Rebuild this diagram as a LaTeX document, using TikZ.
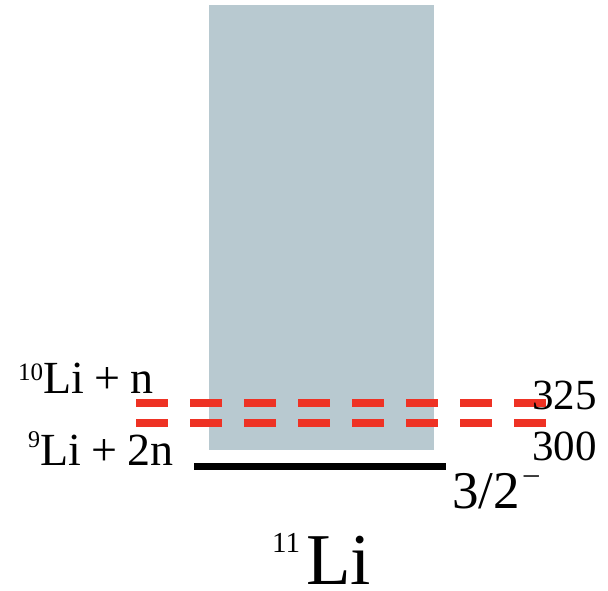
\documentclass[tikz,border=0pt]{standalone}
\usepackage{fontspec}
\setmainfont{Liberation Serif}
\definecolor{boxgray}{RGB}{184,201,208}
\definecolor{dashred}{RGB}{238,50,36}
\usetikzlibrary{positioning}
\tikzset{
  threshold/.style={draw=dashred, line width=8pt, dash pattern=on 32pt off 22pt},
  levelline/.style={draw=black, line width=7pt},
  lblbig/.style={anchor=base west, inner sep=0pt, font=\fontsize{46pt}{46pt}\selectfont},
  lblnum/.style={anchor=base west, inner sep=0pt, font=\fontsize{43pt}{43pt}\selectfont}
}
\newcommand{\plsgap}{\hspace{0.22em}+\hspace{0.22em}}
\newcommand{\nodepth}[1]{\raisebox{0pt}[\height][0pt]{#1}}
\begin{document}
\begin{tikzpicture}[x=1pt,y=-1pt]
  \useasboundingbox (0,0) rectangle (608,591);
  % continuum above threshold
  \node[fill=boxgray, minimum width=225pt, minimum height=445pt, inner sep=0pt, anchor=north west] (cont) at (209,5) {};
  % ground state
  \coordinate (gsL) at (194,466);
  \coordinate (gsR) at (446,466);
  \draw[levelline] (gsL) -- (gsR);
  % thresholds
  \coordinate (thnL) at (136,403);
  \coordinate (thnR) at (548,403);
  \coordinate (thtwoL) at (136,423);
  \coordinate (thtwoR) at (548,423);
  \draw[threshold] (thnL) -- (thnR);
  \draw[threshold] (thtwoL) -- (thtwoR);
  % labels
  \node[lblbig] (onen) at (18,393) {\raisebox{13pt}{\fontsize{25pt}{25pt}\selectfont 10}Li\plsgap n};
  \node[lblbig] (twon) at (28,465) {\raisebox{18pt}{\fontsize{24pt}{24pt}\selectfont 9}Li\plsgap 2n};
  \node[lblnum] (en325) at (532,409) {\nodepth{325}};
  \node[lblnum] (en300) at (532,460) {\nodepth{300}};
  \node[anchor=base west, inner sep=0pt, font=\fontsize{53pt}{53pt}\selectfont] (spin) at (452,508) {3/2\hspace{4pt}\raisebox{25pt}[16pt]{\fontsize{30pt}{30pt}\selectfont \textendash}};
  \node[anchor=base west, inner sep=0pt, font=\fontsize{73pt}{73pt}\selectfont] (nucl) at (272,584) {\nodepth{\raisebox{32pt}{\fontsize{29pt}{29pt}\selectfont 11}\hspace{6pt}Li}};
\end{tikzpicture}
\end{document}
